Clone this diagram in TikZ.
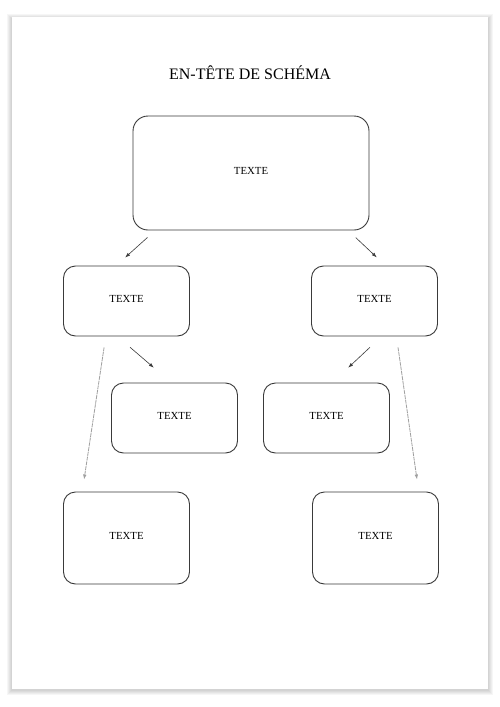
\documentclass[tikz,border=0pt]{standalone}
\usepackage{fontspec}
\setmainfont{Liberation Serif}
\usepackage{xcolor}
\usetikzlibrary{arrows.meta, positioning}
\definecolor{linegray}{HTML}{3A3A3A}
\begin{document}
\begin{tikzpicture}[x=1pt, y=-1pt]
        % --- estilos ---
        \tikzstyle{textbox} = [
            rectangle,
            rounded corners=12pt,
            minimum width=126pt,
            minimum height=70pt,
            text depth=5pt,
            align=center,
            draw=linegray,
            line width=0.9pt,
            fill=white,
            font=\fontsize{10.8}{12}\selectfont
        ]
        \tikzstyle{arrow} = [line width=0.6pt, draw=linegray, ->, >={Latex[length=5pt,width=3.5pt]}]
        \tikzstyle{longarrow} = [line width=0.8pt, draw=gray!75, dash pattern=on 4pt off 0.8pt, ->, >={Latex[length=5pt,width=3.5pt]}]

        % --- page ---
        \useasboundingbox (0,0) rectangle (500,707);
        \fill[white] (0,0) rectangle (500,707);
        \foreach \s in {1,...,5}
            \fill[black, opacity=0.035] (12-\s,17-\s+2) rectangle (488+\s,689+\s+1);
        \fill[white] (12,17) rectangle (488,689);

        % --- titre ---
        \node (titre) at (250,73) {\fontsize{16}{19}\selectfont EN-TÊTE DE SCHÉMA};

        % --- nós ---
        \node (haut) [textbox, minimum width=236pt, minimum height=114pt, rounded corners=15pt] at (251,173) {TEXTE};
        \node (gauche) [textbox] at (126.5,301) {TEXTE};
        \node (droite) [textbox] at (374.5,301) {TEXTE};
        \node (gint) [textbox] at (174.5,418) {TEXTE};
        \node (dint) [textbox] at (326.5,418) {TEXTE};
        \node (gbas) [textbox, minimum height=92pt] at (126.5,538) {TEXTE};
        \node (dbas) [textbox, minimum height=92pt] at (375.5,538) {TEXTE};

        % --- conexões ---
        \draw [arrow, shorten <=10.4pt, shorten >=11.9pt] ([xshift=22.7pt]haut.south west) -- ([xshift=53.2pt]gauche.north west);
        \draw [arrow, shorten <=10.4pt, shorten >=11.9pt] ([xshift=-21.3pt]haut.south east) -- ([xshift=74.4pt]droite.north west);
        \draw [arrow, shorten <=16.7pt, shorten >=22.8pt] ([xshift=54.4pt]gauche.south west) -- ([xshift=60.1pt]gint.north west);
        \draw [arrow, shorten <=15.9pt, shorten >=21.7pt] ([xshift=70.5pt]droite.south west) -- ([xshift=69.3pt]dint.north west);
        \draw [longarrow, shorten <=11.1pt, shorten >=12.1pt] ([xshift=42.7pt]gauche.south west) -- ([xshift=19.2pt]gbas.north west);
        \draw [longarrow, shorten <=11.1pt, shorten >=12.1pt] ([xshift=85.4pt]droite.south west) -- ([xshift=106.7pt]dbas.north west);
    \end{tikzpicture}
\end{document}
